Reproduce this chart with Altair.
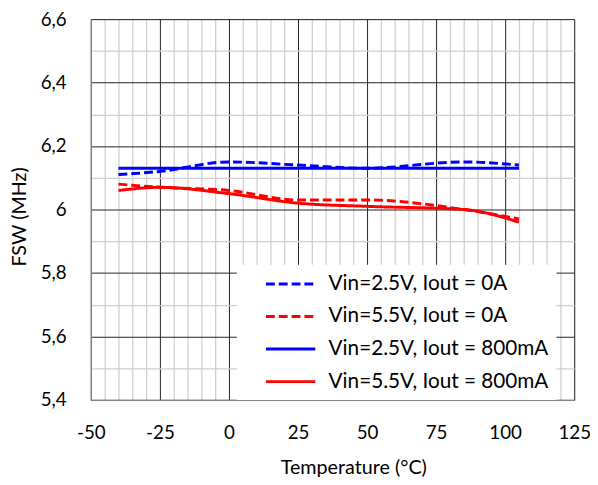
import altair as alt
import pandas as pd

temps = [-40, -25, 0, 25, 50, 85, 105]
s_25_0 = [6.11, 6.12, 6.15, 6.14, 6.13, 6.15, 6.14]
s_55_0 = [6.08, 6.07, 6.06, 6.03, 6.03, 6.00, 5.97]
s_25_800 = [6.13, 6.13, 6.13, 6.13, 6.13, 6.13, 6.13]
s_55_800 = [6.06, 6.07, 6.05, 6.02, 6.01, 6.00, 5.96]

names = ["Vin=2.5V, Iout = 0A", "Vin=5.5V, Iout = 0A",
         "Vin=2.5V, Iout = 800mA", "Vin=5.5V, Iout = 800mA"]
colors = ["#0000FF", "#FF0000", "#0000FF", "#FF0000"]
dashes = [[9, 4], [9, 4], [1, 0], [1, 0]]

x_ticks = list(range(-50, 130, 5))
y_ticks = [round(5.4 + 0.1 * i, 1) for i in range(13)]

rows = []
for name, vals in zip(names, [s_25_0, s_55_0, s_25_800, s_55_800]):
    for t, v in zip(temps, vals):
        rows.append({"series": name, "temp": t, "fsw": v})
df = pd.DataFrame(rows)

FONT = "Lato"

x_axis = alt.Axis(
    values=x_ticks,
    title="Temperature (°C)",
    labelExpr="datum.value % 25 == 0 ? '' + datum.value : ''",
    labelOverlap=False, labelFlush=False, labelBound=False,
    ticks=False, labelPadding=24, labelBaseline="top",
    labelFontSize=19, labelFont=FONT, labelColor="black",
    titleFontSize=20, titleFont=FONT, titleFontWeight="normal", titleColor="black",
    titleX=266, titleY=69, titleBaseline="middle", titleAlign="center",
    grid=True,
    gridColor={"condition": {"test": "datum.value % 25 == 0", "value": "#222222"}, "value": "#d0d0d0"},
    gridWidth={"condition": {"test": "datum.value % 25 == 0", "value": 1}, "value": 1.3},
    domainColor="#808080", domainWidth=1.3,
)

y_axis = alt.Axis(
    values=y_ticks,
    title="FSW (MHz)",
    labelExpr="abs(round(datum.value*10)) % 2 == 0 ? replace(format(datum.value, '.1~f'), '.', ',') : ''",
    labelOverlap=False, labelFlush=False, labelBound=False,
    ticks=False, labelPadding=25,
    labelFontSize=19, labelFont=FONT, labelColor="black",
    titleFontSize=20, titleFont=FONT, titleFontWeight="normal", titleColor="black",
    titleX=-72, titleY=200, titleAngle=270, titleBaseline="middle", titleAlign="center",
    grid=True,
    gridColor={"condition": {"test": "abs(round(datum.value*10)) % 2 == 0", "value": "#222222"}, "value": "#d0d0d0"},
    gridWidth={"condition": {"test": "abs(round(datum.value*10)) % 2 == 0", "value": 1}, "value": 1.3},
    domainColor="#808080", domainWidth=1.3,
)

legend = alt.Legend(
    title=None, orient="none", legendX=148, legendY=249,
    fillColor="white", padding=8,
    symbolType="M-2.5,0L2.5,0", symbolSize=400, symbolStrokeWidth=3,
    symbolOffset=35, labelOffset=27, rowPadding=11, labelLimit=0,
    labelFontSize=21, labelFont=FONT, labelColor="black",
)

chart = alt.Chart(df).mark_line(strokeWidth=3, interpolate="monotone").encode(
    x=alt.X("temp:Q", scale=alt.Scale(domain=[-50, 125], nice=False, zero=False), axis=x_axis),
    y=alt.Y("fsw:Q", scale=alt.Scale(domain=[5.4, 6.6], nice=False, zero=False), axis=y_axis),
    color=alt.Color("series:N", scale=alt.Scale(domain=names, range=colors), sort=names, legend=legend),
    strokeDash=alt.StrokeDash("series:N", scale=alt.Scale(domain=names, range=dashes), sort=names, legend=legend),
    order=alt.Order("temp:Q"),
).properties(
    width=490, height=386,
    autosize=alt.AutoSizeParams(type="none"),
    padding={"left": 84, "top": 8, "right": 16, "bottom": 83},
).configure_view(stroke=None).configure(background="white")

chart.save("out.html", embed_options={"renderer": "svg", "actions": False})
